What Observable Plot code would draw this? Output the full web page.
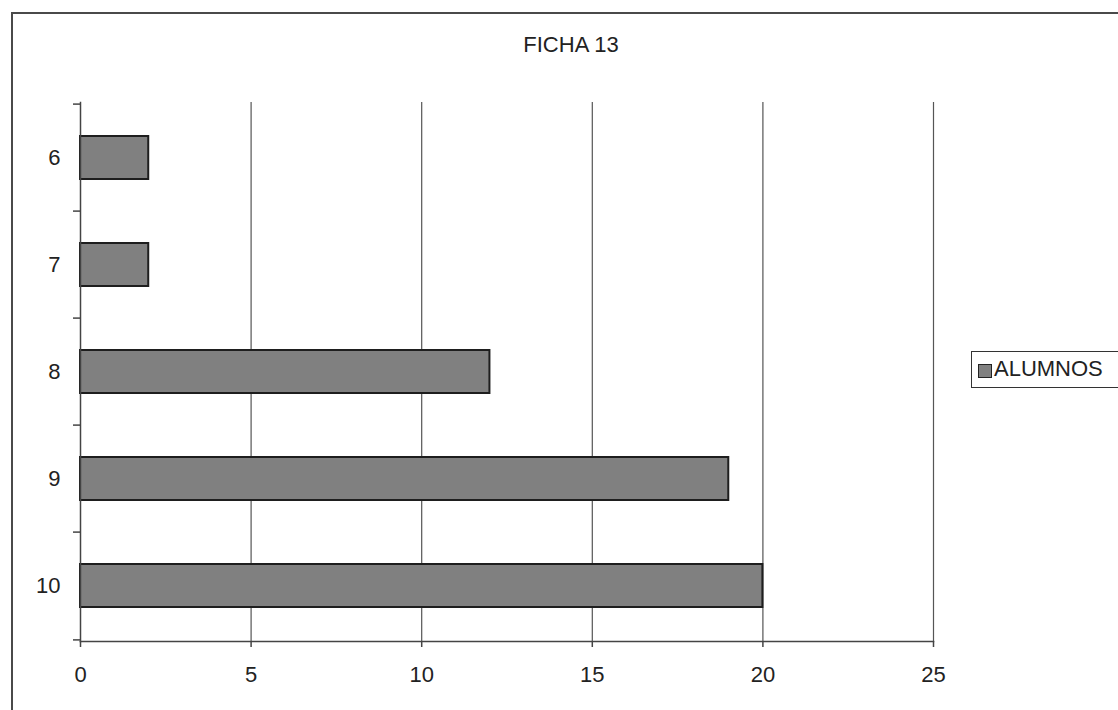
<!DOCTYPE html>
<html>
<head>
<meta charset="utf-8">
<script src="https://cdn.jsdelivr.net/npm/d3@7"></script>
<script src="https://cdn.jsdelivr.net/npm/@observablehq/plot@0.6"></script>
<style>
  html, body { margin: 0; padding: 0; background: #fff; overflow: hidden; }
  #wrap { position: relative; width: 1118px; height: 710px; overflow: hidden; font-family: "Liberation Sans", Arial, sans-serif; }
  #border { position: absolute; left: 11px; top: 12px; width: 1300px; height: 900px; border: 2px solid #4a4a4a; box-sizing: border-box; }
  #title { position: absolute; left: 471px; width: 200px; top: 34px; text-align: center; font-size: 22px; line-height: 22px; color: #222; }
  #legend { position: absolute; left: 971px; top: 351px; width: 200px; height: 37px; border: 1.5px solid #333; box-sizing: border-box; background: #fff; }
  #legend .sw { position: absolute; left: 6px; top: 12px; width: 12px; height: 12px; background: #808080; border: 1.5px solid #222; }
  #legend .lb { position: absolute; left: 22px; top: 6px; font-size: 22px; line-height: 22px; color: #222; }
  #chart { position: absolute; left: 0; top: 0; }
</style>
</head>
<body>
<div id="wrap">
  <div id="border"></div>
  <div id="chart"></div>
  <div id="title"></div>
  <div id="legend"><div class="sw"></div><div class="lb"></div></div>
</div>
<script>
const title = "FICHA 13";
const seriesName = "ALUMNOS";
const categories = ["6", "7", "8", "9", "10"];
const alumnos = [2, 2, 12, 19, 20];
const xTicks = [0, 5, 10, 15, 20, 25];

const data = categories.map((c, i) => ({cat: c, value: alumnos[i]}));

document.getElementById("title").textContent = title;
document.querySelector("#legend .lb").textContent = seriesName;

const H = 710, W = 1118;
const mTop = 102, mBottom = 69;
const step = (H - mTop - mBottom) / categories.length;

const chart = Plot.plot({
  width: W,
  height: H,
  marginLeft: 80,
  marginRight: 185,
  marginTop: mTop,
  marginBottom: mBottom,
  style: {fontFamily: "'Liberation Sans', Arial, sans-serif", fontSize: "22px", color: "#222", background: "transparent"},
  x: {domain: [0, 25], ticks: xTicks},
  y: {domain: categories, paddingInner: 0.6, paddingOuter: 0.3},
  marks: [
    Plot.gridX(xTicks.filter(d => d > 0), {stroke: "#555", strokeOpacity: 1, strokeWidth: 1.2}),
    Plot.barX(data, {x: "value", y: "cat", fill: "#808080", stroke: "#1e1e1e", strokeWidth: 2}),
    Plot.frame({anchor: "left", stroke: "#444", strokeWidth: 1.5}),
    Plot.frame({anchor: "bottom", stroke: "#444", strokeWidth: 1.5}),
    Plot.axisX(xTicks, {anchor: "bottom", tickSize: 6, tickPadding: 19, label: null, stroke: "#444", strokeWidth: 1.5, fill: "#222"}),
    Plot.axisY({anchor: "left", tickSize: 0, tickPadding: 20, label: null, fill: "#222"}),
    Plot.axisY({anchor: "left", tickSize: 7, text: null, label: null, dy: -step / 2, stroke: "#444", strokeWidth: 1.5}),
    Plot.axisY([categories[categories.length - 1]], {anchor: "left", tickSize: 7, text: null, label: null, dy: step / 2, stroke: "#444", strokeWidth: 1.5})
  ]
});
document.getElementById("chart").appendChild(chart);
</script>
</body>
</html>
